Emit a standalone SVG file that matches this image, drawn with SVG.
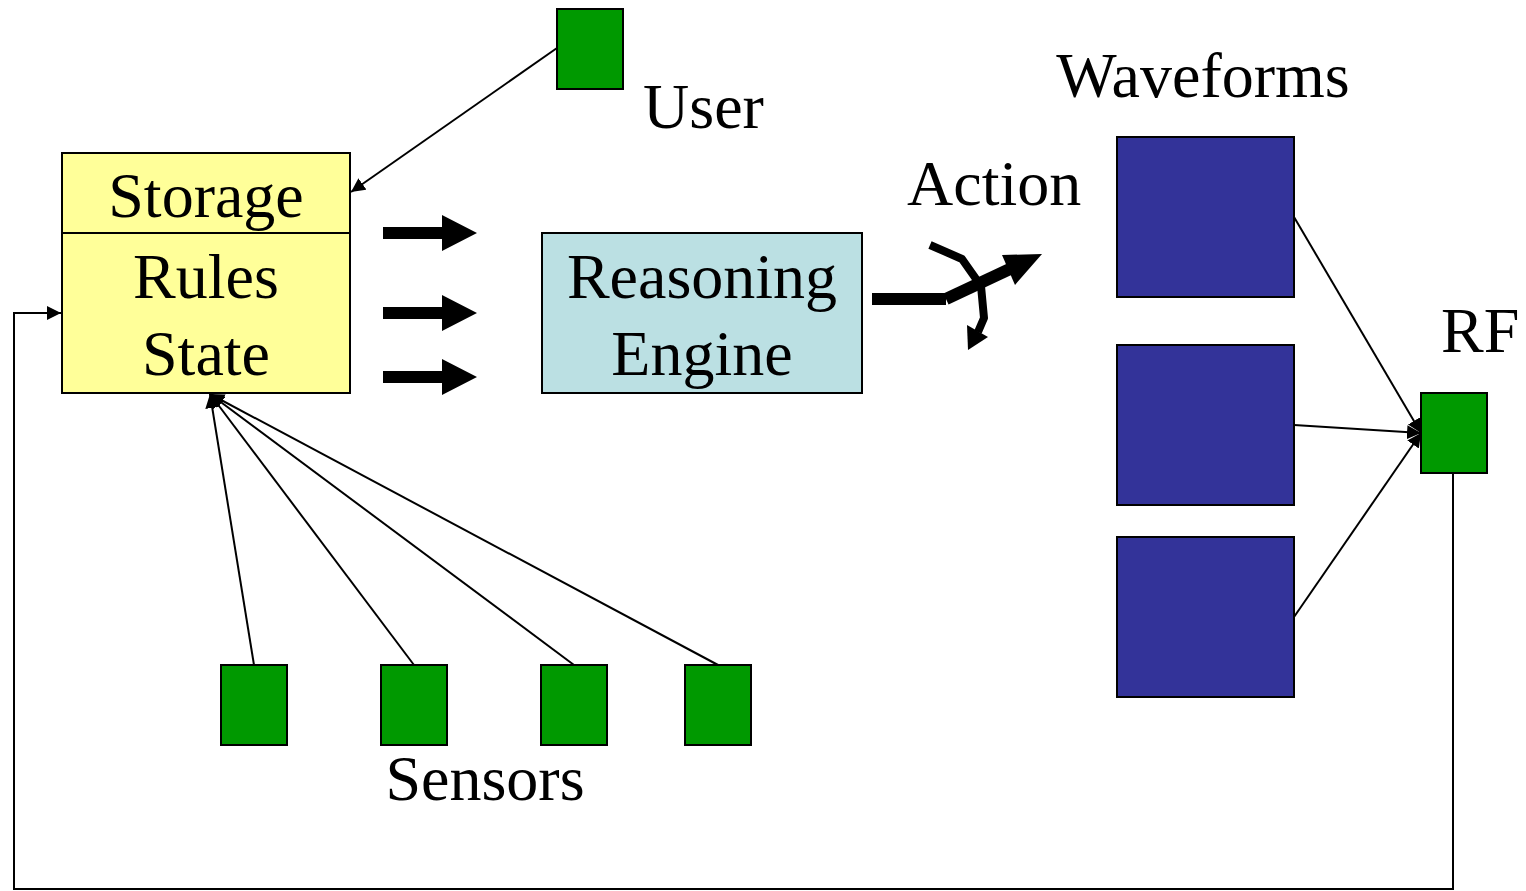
<svg xmlns="http://www.w3.org/2000/svg" width="1526" height="891" viewBox="0 0 1526 891">
<style>
text{font-family:"Liberation Serif","Times New Roman",serif;font-size:64px;fill:#000}
.g{fill:#009900;stroke:#000;stroke-width:2}
.w{fill:#333399;stroke:#000;stroke-width:2}
.ln{fill:none;stroke:#000;stroke-width:2}
.big{fill:#000}
</style>
<defs>
<marker id="ah2" viewBox="0 0 10 10" refX="10" refY="5" markerWidth="14" markerHeight="14" markerUnits="userSpaceOnUse" orient="auto">
<path d="M0,0 L10,5 L0,10 z" fill="#000"/>
</marker>
</defs>
<g id="connectors">
<line class="ln" x1="557" y1="48" x2="351" y2="192" marker-end="url(#ah2)"/>
<line class="ln" x1="254" y1="665" x2="210" y2="394" marker-end="url(#ah2)"/>
<line class="ln" x1="414" y1="665" x2="210" y2="394" marker-end="url(#ah2)"/>
<line class="ln" x1="574" y1="665" x2="210" y2="394" marker-end="url(#ah2)"/>
<line class="ln" x1="718" y1="665" x2="210" y2="394" marker-end="url(#ah2)"/>
<line class="ln" x1="1294" y1="217" x2="1421" y2="433" marker-end="url(#ah2)"/>
<line class="ln" x1="1294" y1="425" x2="1421" y2="433" marker-end="url(#ah2)"/>
<line class="ln" x1="1294" y1="617" x2="1421" y2="433" marker-end="url(#ah2)"/>
<polyline class="ln" points="1453,473 1453,889 14,889 14,313 61,313" marker-end="url(#ah2)"/>
<g id="thick-arrows" class="big">
<path d="M383,227 H442 V215 L477,233 L442,251 V239 H383 Z"/>
<path d="M383,307 H442 V295 L477,313 L442,331 V319 H383 Z"/>
<path d="M383,371 H442 V359 L477,377 L442,395 V383 H383 Z"/>
</g>
<g id="action-arrow">
<rect x="872" y="293" width="74" height="12" fill="#000"/>
<polyline points="946,299 1012,268" fill="none" stroke="#000" stroke-width="12"/>
<path d="M1002,255 L1042,254 L1015,285 Z" fill="#000"/>
<polyline points="930,245 962,259 981,286 984,318 978,332" fill="none" stroke="#000" stroke-width="8" stroke-linejoin="round"/>
<path d="M967,325 L988,337 L968,350 Z" fill="#000"/>
</g>
</g>
<g id="storage">
<rect x="62" y="153" width="288" height="240" fill="#FFFF99" stroke="#000" stroke-width="2"/>
<line x1="62" y1="233" x2="350" y2="233" stroke="#000" stroke-width="2"/>
<text x="206" y="217" text-anchor="middle">Storage</text>
<text x="206" y="298" text-anchor="middle">Rules</text>
<text x="206" y="375" text-anchor="middle">State</text>
</g>
<g id="engine">
<rect x="542" y="233" width="320" height="160" fill="#BBE0E3" stroke="#000" stroke-width="2"/>
<text x="702" y="298" text-anchor="middle">Reasoning</text>
<text x="702" y="375" text-anchor="middle">Engine</text>
</g>
<g id="user">
<rect class="g" x="557" y="9" width="66" height="80"/>
<text x="643" y="128">User</text>
</g>
<g id="sensors">
<rect class="g" x="221" y="665" width="66" height="80"/>
<rect class="g" x="381" y="665" width="66" height="80"/>
<rect class="g" x="541" y="665" width="66" height="80"/>
<rect class="g" x="685" y="665" width="66" height="80"/>
<text x="485" y="800" text-anchor="middle">Sensors</text>
</g>
<g id="waveforms">
<rect class="w" x="1117" y="137" width="177" height="160"/>
<rect class="w" x="1117" y="345" width="177" height="160"/>
<rect class="w" x="1117" y="537" width="177" height="160"/>
<text x="1203" y="97" text-anchor="middle">Waveforms</text>
</g>
<g id="rf">
<rect class="g" x="1421" y="393" width="66" height="80"/>
<text x="1441" y="352">RF</text>
</g>
<g id="action">
<text x="907" y="205">Action</text>
</g>
</svg>
